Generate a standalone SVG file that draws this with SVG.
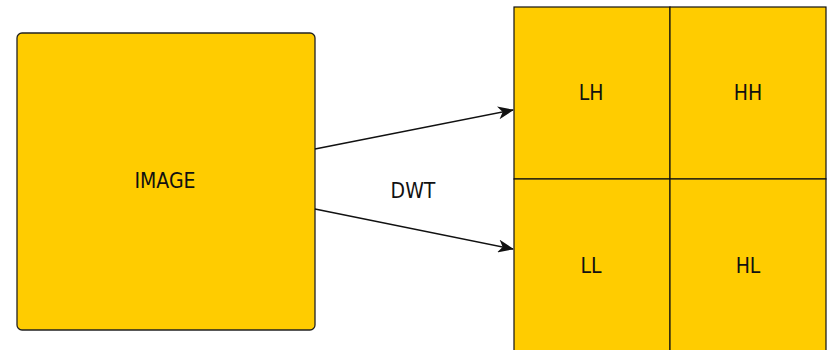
<svg xmlns="http://www.w3.org/2000/svg" width="827" height="350" viewBox="0 0 827 350">
<style>
.box{fill:#FFCC00;stroke:#222;stroke-width:1.3}
.cell{fill:#FFCC00;stroke:#111;stroke-width:1.2}
.lbl{font-family:"DejaVu Sans Condensed","DejaVu Sans",sans-serif;font-size:21px;fill:#111;text-anchor:middle}
.edge{stroke:#111;stroke-width:1.5;fill:none;marker-end:url(#arr)}
</style>
<defs>
<marker id="arr" viewBox="0 0 16 13" refX="15" refY="6.5" markerWidth="16" markerHeight="13" markerUnits="userSpaceOnUse" orient="auto">
<path d="M0,0 L16,6.5 L0,13 L4.5,6.5 Z" fill="#111"/>
</marker>
</defs>
<rect width="827" height="350" fill="#fff"/>
<g id="image">
<rect class="box" x="17" y="33" width="298" height="297" rx="5"/>
<text class="lbl" x="165" y="188">IMAGE</text>
</g>
<g id="LH">
<rect class="cell" x="514" y="7" width="156" height="172"/>
<text class="lbl" x="591" y="100">LH</text>
</g>
<g id="HH">
<rect class="cell" x="670" y="7" width="156" height="172"/>
<text class="lbl" x="748" y="100">HH</text>
</g>
<g id="LL">
<rect class="cell" x="514" y="179" width="156" height="172"/>
<text class="lbl" x="591" y="273">LL</text>
</g>
<g id="HL">
<rect class="cell" x="670" y="179" width="156" height="172"/>
<text class="lbl" x="748" y="273">HL</text>
</g>
<g id="connectors">
<line class="edge" x1="315" y1="149" x2="513" y2="110"/>
<line class="edge" x1="315" y1="209" x2="513" y2="249"/>
<text class="lbl" x="413" y="198">DWT</text>
</g>
</svg>
